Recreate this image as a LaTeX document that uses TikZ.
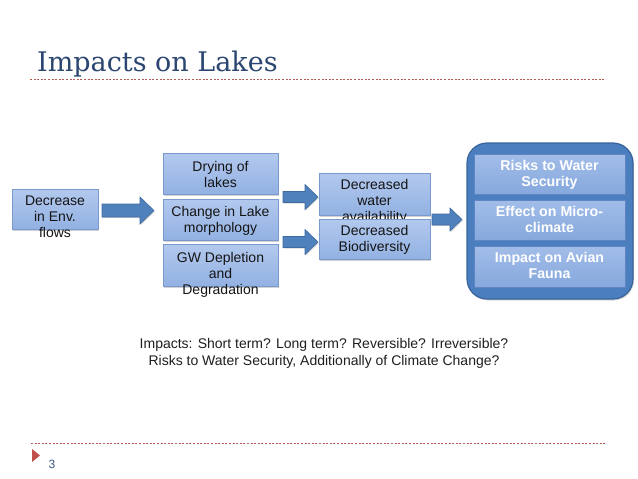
\documentclass[tikz,border=0pt]{standalone}
\usepackage{fontspec}
\setmainfont{Liberation Sans}
\newfontfamily\titlefont{DejaVu Serif}
\usetikzlibrary{shadows}
\definecolor{titleblue}{HTML}{2B4670}
\definecolor{dotred}{HTML}{B85A50}
\definecolor{boxtop}{HTML}{B3C9EE}
\definecolor{boxbot}{HTML}{92B1E2}
\definecolor{boxborder}{HTML}{7A99CC}
\definecolor{arrowfill}{HTML}{4F81BD}
\definecolor{arrowborder}{HTML}{3E6AA0}
\definecolor{contfill}{HTML}{4A7EBE}
\definecolor{contborder}{HTML}{39649C}
\definecolor{intop}{HTML}{A2BDE8}
\definecolor{inbot}{HTML}{86A8DD}
\definecolor{inborder}{HTML}{5F86C2}
\definecolor{numblue}{HTML}{3B5887}
\definecolor{bulletred}{HTML}{C0504D}
\newcommand{\blockarrow}[6]{%
  \filldraw[arrowstyle] (#1,#3-#4) -- (#6,#3-#4) -- (#6,#3-#5) -- (#2,#3)
    -- (#6,#3+#5) -- (#6,#3+#4) -- (#1,#3+#4) -- cycle;}
\begin{document}
\begin{tikzpicture}[x=1pt,y=-1pt,
  lbox/.style={rectangle, draw=boxborder, line width=0.6pt, top color=boxtop, bottom color=boxbot,
    drop shadow={shadow xshift=1.2pt, shadow yshift=-1.5pt, opacity=0.35}, inner sep=0pt},
  ibox/.style={rectangle, draw=inborder, line width=0.6pt, top color=intop, bottom color=inbot,
    drop shadow={shadow xshift=0.8pt, shadow yshift=-1.2pt, opacity=0.35}, inner sep=0pt,
    minimum width=151pt},
  btext/.style={font=\fontsize{14}{16}\selectfont, text=black!92, align=center, anchor=base, inner sep=0pt},
  wtext/.style={font=\bfseries\fontsize{14.2}{16.5}\selectfont, text=white, align=center, anchor=base, inner sep=0pt},
  arrowstyle/.style={fill=arrowfill, draw=arrowborder, line width=0.6pt,
    drop shadow={shadow xshift=0.8pt, shadow yshift=-1.2pt, opacity=0.3}},
  dotline/.style={draw=dotred, line width=0.7pt, dash pattern=on 2pt off 1.6pt}]
\useasboundingbox[fill=white] (0,0) rectangle (638,479);

% title
\node[font=\titlefont\fontsize{27}{30}\selectfont, text=titleblue, anchor=base west, inner sep=0pt]
  (title) at (37,71.5) {Impacts on Lakes};
\coordinate (tl1) at (30,79);
\coordinate (tl2) at (606,79);
\draw[dotline] (tl1) -- (tl2);

% left box
\node[lbox, minimum width=86pt, minimum height=40pt] (dec) at (55,209) {};
\node[btext] (dect) at (55,237) {Decrease\\in Env.\\flows};

\blockarrow{102}{154}{210.5}{6.5}{13.5}{140}

% middle boxes
\node[lbox, minimum width=115pt, minimum height=41pt] (dry) at (220.5,173.5) {};
\node[btext] (dryt) at (220.5,187) {Drying of\\lakes};
\node[lbox, minimum width=115pt, minimum height=41pt] (chg) at (220.5,219.5) {};
\node[btext] (chgt) at (220.5,232) {Change in Lake\\morphology};
\node[lbox, minimum width=115pt, minimum height=42pt] (gw) at (220.5,265) {};
\node[btext] (gwt) at (220.5,294) {GW Depletion\\and\\Degradation};

\blockarrow{283}{318}{197}{5.5}{12.5}{305}
\blockarrow{283}{318}{242}{5.5}{12.5}{305}

% outcome boxes
\node[lbox, minimum width=111pt, minimum height=42pt] (avail) at (374.5,194) {};
\node[btext] (availt) at (374.5,221) {Decreased\\water\\availability};
\node[lbox, minimum width=111pt, minimum height=40pt] (bio) at (374.5,239) {};
\node[btext] (biot) at (374.5,251.5) {Decreased\\Biodiversity};

\blockarrow{432}{462}{219.5}{5.5}{11.5}{450}

% container
\node[rectangle, rounded corners=20pt, fill=contfill, draw=contborder, line width=1.2pt,
  minimum width=166pt, minimum height=156pt, inner sep=0pt,
  drop shadow={shadow xshift=1pt, shadow yshift=-1.5pt, opacity=0.3}] (cont) at (550,221) {};
\node[ibox, minimum height=40pt] (risk) at (549.5,174) {};
\node[wtext] (riskt) at (549.5,186.5) {Risks to Water\\Security};
\node[ibox, minimum height=40pt] (eff) at (549.5,220) {};
\node[wtext] (efft) at (549.5,232.5) {Effect on Micro-\\climate};
\node[ibox, minimum height=41pt] (avian) at (549.5,266.5) {};
\node[wtext] (aviant) at (549.5,278.5) {Impact on Avian\\Fauna};

% bottom text
\node[font=\fontsize{14}{17}\selectfont, text=black!88, align=center, anchor=base, inner sep=0pt]
  (note) at (324,365) {Impacts: Short term? Long term? Reversible? Irreversible?\\Risks to Water Security, Additionally of Climate Change?};

% footer
\coordinate (bl1) at (31,443);
\coordinate (bl2) at (606,443);
\draw[dotline] (bl1) -- (bl2);
\fill[bulletred] (32,449) -- (40,455.5) -- (32,462) -- cycle;
\node[font=\fontsize{12}{14}\selectfont, text=numblue, anchor=base west, inner sep=0pt] (pnum) at (48.5,468) {3};
\end{tikzpicture}
\end{document}
